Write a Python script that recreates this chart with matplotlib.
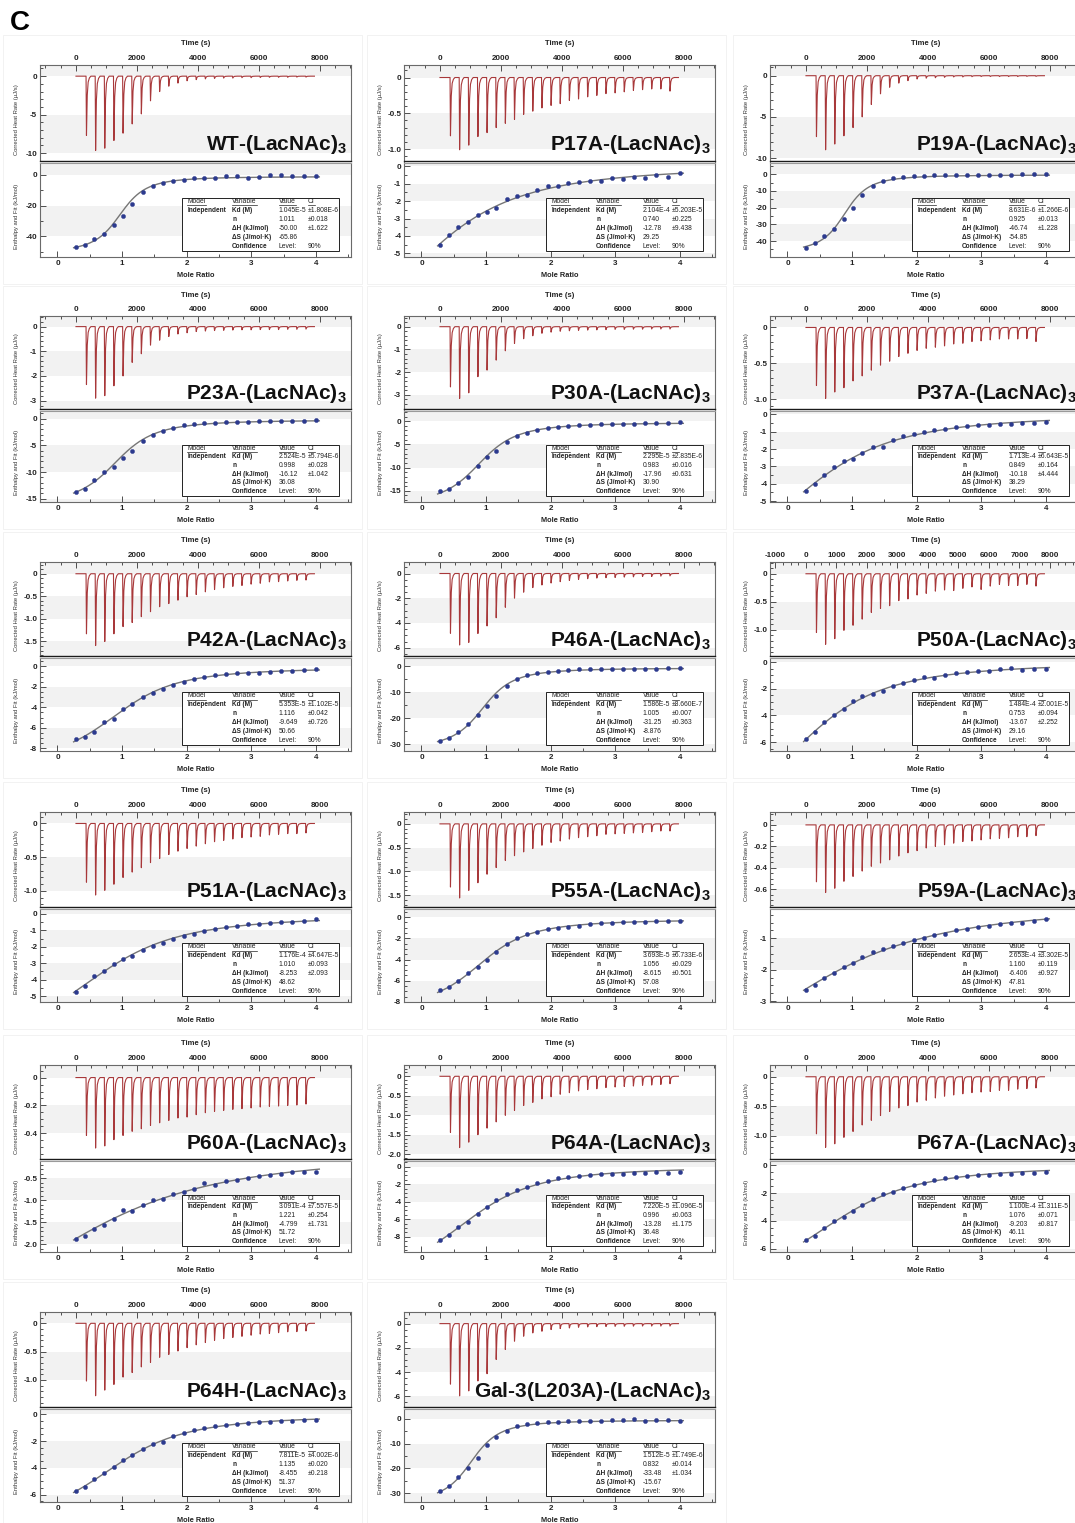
import numpy as np
import matplotlib.pyplot as plt
from matplotlib.patches import Rectangle

plt.rcParams['font.family'] = ['Liberation Sans', 'DejaVu Sans']
plt.rcParams['mathtext.fontset'] = 'custom'
plt.rcParams['mathtext.rm'] = 'Liberation Sans'
plt.rcParams['mathtext.bf'] = 'Liberation Sans:bold'

# constructs, panel order left->right, top->bottom
constructs = ['WT', 'P17A', 'P19A', 'P23A', 'P30A', 'P37A', 'P42A', 'P46A', 'P50A',
              'P51A', 'P55A', 'P59A', 'P60A', 'P64A', 'P67A', 'P64H', 'Gal-3(L203A)']

# independent-site model results
kd = ['1.045E-5', '2.104E-4', '8.631E-6', '2.524E-5', '2.295E-5', '1.713E-4', '5.353E-5',
      '1.586E-5', '1.484E-4', '1.176E-4', '3.693E-5', '2.653E-4', '3.091E-4', '7.220E-5',
      '1.100E-4', '7.811E-5', '1.512E-5']
kd_ci = ['1.808E-6', '5.203E-5', '1.266E-6', '5.794E-6', '2.835E-6', '6.643E-5', '1.102E-5',
         '8.660E-7', '2.001E-5', '4.647E-5', '6.733E-6', '3.302E-5', '7.557E-5', '1.096E-5',
         '1.311E-5', '4.002E-6', '1.749E-6']
n_sites = ['1.011', '0.740', '0.925', '0.998', '0.983', '0.849', '1.116', '1.005', '0.753',
           '1.010', '1.056', '1.160', '1.221', '0.996', '1.076', '1.135', '0.832']
n_ci = ['0.018', '0.225', '0.013', '0.028', '0.016', '0.164', '0.042', '0.007', '0.094',
        '0.093', '0.029', '0.119', '0.254', '0.063', '0.071', '0.020', '0.014']
dh = ['-50.00', '-12.78', '-46.74', '-16.12', '-17.96', '-10.18', '-9.649', '-31.25', '-13.67',
      '-8.253', '-8.615', '-6.406', '-4.799', '-13.28', '-9.203', '-8.455', '-33.48']
dh_ci = ['1.622', '9.438', '1.228', '1.042', '0.631', '4.444', '0.726', '0.363', '2.252',
         '2.093', '0.501', '0.927', '1.731', '1.175', '0.817', '0.218', '1.034']
ds = ['-65.86', '29.25', '-54.85', '36.08', '30.90', '38.29', '50.66', '-8.876', '29.16',
      '48.62', '57.08', '47.81', '51.72', '36.48', '46.11', '51.37', '-15.67']

# injection schedule (s) and mole ratio of the integrated injections
inj_times = [330, 630, 930, 1230, 1530, 1830, 2130, 2430, 2730, 3030, 3330, 3630, 3930,
             4230, 4530, 4830, 5130, 5430, 5730, 6030, 6330, 6630, 6930, 7230, 7530]
mole_ratio = [0.29, 0.43, 0.57, 0.72, 0.87, 1.01, 1.16, 1.32, 1.47, 1.63, 1.79, 1.95, 2.11,
              2.27, 2.43, 2.60, 2.77, 2.94, 3.11, 3.28, 3.46, 3.63, 3.81, 4.00]

# peak minima of the raw heat rate (uJ/s)
peaks_wt = [-7.7, -9.65, -9.35, -8.35, -7.4, -6.2, -4.9, -3.2, -2.0, -1.3, -0.9, -0.6, -0.45,
            -0.35, -0.3, -0.25, -0.25, -0.2, -0.2, -0.18, -0.15, -0.15, -0.15, -0.12, -0.12]
peaks_p17a = [-0.815, -1.01, -0.945, -0.825, -0.77, -0.70, -0.64, -0.585, -0.515, -0.47, -0.425,
              -0.39, -0.365, -0.32, -0.30, -0.27, -0.25, -0.225, -0.215, -0.20, -0.18, -0.17,
              -0.16, -0.16, -0.19]
peaks_p19a = [-7.4, -9.0, -8.3, -7.3, -6.3, -5.0, -3.5, -2.2, -1.4, -0.9, -0.6, -0.4, -0.3,
              -0.25, -0.2, -0.15, -0.15, -0.12, -0.1, -0.1, -0.1, -0.1, -0.1, -0.08, -0.08]
peaks_p23a = [-2.35, -2.9, -2.8, -2.4, -2.0, -1.45, -1.1, -0.75, -0.55, -0.4, -0.3, -0.25, -0.2,
              -0.18, -0.16, -0.15, -0.14, -0.13, -0.13, -0.12, -0.12, -0.12, -0.11, -0.11, -0.1]
peaks_p30a = [-2.65, -3.16, -2.91, -2.2, -1.91, -1.47, -1.06, -0.74, -0.53, -0.40, -0.29, -0.24,
              -0.2, -0.18, -0.16, -0.15, -0.14, -0.13, -0.12, -0.12, -0.11, -0.11, -0.1, -0.1, -0.1]
peaks_p37a = [-0.81, -0.99, -0.90, -0.84, -0.745, -0.675, -0.595, -0.525, -0.47, -0.405, -0.36,
              -0.32, -0.29, -0.275, -0.257, -0.23, -0.22, -0.196, -0.187, -0.173, -0.16, -0.16,
              -0.16, -0.155, -0.196]
peaks_p42a = [-1.33, -1.59, -1.5, -1.33, -1.17, -1.08, -0.95, -0.84, -0.73, -0.66, -0.585, -0.51,
              -0.46, -0.40, -0.35, -0.31, -0.28, -0.26, -0.23, -0.21, -0.18, -0.175, -0.16,
              -0.146, -0.14]
peaks_p46a = [-4.83, -5.78, -5.57, -4.85, -4.24, -3.58, -2.73, -1.99, -1.51, -1.14, -0.93, -0.77,
              -0.66, -0.56, -0.48, -0.42, -0.37, -0.34, -0.32, -0.29, -0.27, -0.24, -0.24, -0.21,
              -0.19]
peaks_p50a = [-1.05, -1.26, -1.16, -1.01, -0.92, -0.81, -0.69, -0.62, -0.57, -0.48, -0.45, -0.38,
              -0.35, -0.31, -0.29, -0.30, -0.26, -0.235, -0.28, -0.22, -0.19, -0.21, -0.21, -0.19,
              -0.22]
peaks_p51a = [-0.87, -1.06, -0.99, -0.90, -0.80, -0.72, -0.655, -0.58, -0.52, -0.46, -0.41, -0.37,
              -0.335, -0.30, -0.27, -0.25, -0.23, -0.21, -0.20, -0.19, -0.17, -0.16, -0.15, -0.15,
              -0.14]
peaks_p55a = [-1.33, -1.56, -1.40, -1.24, -1.06, -0.92, -0.77, -0.67, -0.59, -0.52, -0.45, -0.39,
              -0.36, -0.32, -0.29, -0.27, -0.25, -0.22, -0.21, -0.20, -0.19, -0.18, -0.165, -0.15,
              -0.15]
peaks_p59a = [-0.53, -0.63, -0.59, -0.525, -0.48, -0.43, -0.385, -0.355, -0.325, -0.29, -0.26,
              -0.24, -0.215, -0.20, -0.185, -0.17, -0.155, -0.15, -0.14, -0.13, -0.125, -0.12,
              -0.11, -0.11, -0.1]
peaks_p60a = [-0.415, -0.505, -0.49, -0.445, -0.415, -0.385, -0.367, -0.343, -0.324, -0.307,
              -0.29, -0.283, -0.266, -0.252, -0.242, -0.235, -0.228, -0.223, -0.218, -0.211,
              -0.206, -0.204, -0.2, -0.197, -0.19]
peaks_p64a = [-1.44, -1.83, -1.69, -1.5, -1.33, -1.17, -1.0, -0.875, -0.75, -0.67, -0.58, -0.525,
              -0.46, -0.42, -0.375, -0.34, -0.32, -0.29, -0.275, -0.26, -0.25, -0.23, -0.225,
              -0.21, -0.19]
peaks_p67a = [-0.97, -1.2, -1.14, -1.03, -0.93, -0.82, -0.74, -0.66, -0.59, -0.53, -0.49, -0.43,
              -0.40, -0.36, -0.33, -0.31, -0.29, -0.27, -0.26, -0.25, -0.23, -0.23, -0.21, -0.2,
              -0.19]
peaks_p64h = [-1.02, -1.28, -1.18, -1.08, -0.95, -0.87, -0.77, -0.69, -0.6, -0.55, -0.49, -0.43,
              -0.38, -0.34, -0.3, -0.27, -0.25, -0.23, -0.21, -0.19, -0.18, -0.165, -0.15, -0.147,
              -0.135]
peaks_gal3 = [-5.0, -5.97, -5.56, -4.74, -4.14, -2.96, -2.14, -1.45, -1.04, -0.77, -0.63, -0.49,
              -0.41, -0.36, -0.3, -0.27, -0.25, -0.24, -0.23, -0.22, -0.21, -0.2, -0.2, -0.2, -0.2]

# integrated heats (kJ/mol of injectant)
heats_wt = [-46.8, -45.7, -42.0, -38.3, -32.8, -26.6, -18.9, -10.9, -7.4, -5.3, -4.0, -3.6,
            -1.7, -2.3, -1.7, -0.9, -0.9, -1.7, -1.5, 0.0, 0.2, -0.4, -0.6, -0.6]
heats_p17a = [-4.55, -3.95, -3.5, -3.2, -2.82, -2.63, -2.42, -1.9, -1.69, -1.62, -1.33, -1.15,
              -1.15, -0.96, -0.88, -0.81, -0.85, -0.66, -0.71, -0.60, -0.64, -0.51, -0.60, -0.38]
heats_p19a = [-44.0, -41.0, -37.0, -33.0, -27.0, -20.5, -12.5, -7.0, -4.2, -2.5, -1.9, -1.3,
              -0.9, -0.7, -0.5, -0.4, -0.3, -0.3, -0.2, -0.2, -0.2, -0.1, -0.1, 0.2]
heats_p23a = [-13.7, -13.2, -11.4, -9.9, -9.0, -7.3, -6.0, -4.2, -3.1, -2.3, -1.7, -1.3, -1.0,
              -0.9, -0.75, -0.7, -0.6, -0.6, -0.5, -0.45, -0.45, -0.4, -0.45, -0.35]
heats_p30a = [-15.0, -14.5, -13.3, -12.0, -9.6, -7.7, -6.5, -4.4, -3.2, -2.5, -1.8, -1.4, -1.2,
              -1.0, -0.85, -0.75, -0.65, -0.6, -0.5, -0.5, -0.45, -0.4, -0.4, -0.15]
heats_p37a = [-4.42, -4.02, -3.5, -3.04, -2.7, -2.57, -2.24, -1.9, -1.89, -1.46, -1.26, -1.11,
              -1.02, -0.93, -0.83, -0.72, -0.67, -0.63, -0.61, -0.57, -0.54, -0.52, -0.5, -0.43]
heats_p42a = [-7.1, -6.9, -6.4, -5.4, -5.1, -4.2, -3.7, -2.95, -2.6, -2.2, -1.8, -1.55, -1.25,
              -1.0, -0.85, -0.7, -0.65, -0.6, -0.65, -0.5, -0.45, -0.45, -0.4, -0.27]
heats_p46a = [-28.6, -27.4, -25.3, -22.2, -18.8, -15.3, -11.2, -7.6, -5.0, -3.5, -2.5, -2.0,
              -1.6, -1.4, -1.2, -1.1, -1.0, -0.95, -0.9, -0.9, -0.85, -0.85, -0.8, -0.8]
heats_p50a = [-5.8, -5.25, -4.53, -3.98, -3.53, -2.94, -2.56, -2.36, -2.14, -1.77, -1.59, -1.37,
              -1.14, -1.19, -1.0, -0.85, -0.75, -0.67, -0.70, -0.55, -0.47, -0.62, -0.52, -0.50]
heats_p51a = [-4.75, -4.35, -3.8, -3.45, -3.05, -2.75, -2.55, -2.2, -1.95, -1.75, -1.5, -1.35,
              -1.2, -1.05, -0.9, -0.8, -0.75, -0.65, -0.6, -0.55, -0.5, -0.5, -0.45, -0.3]
heats_p55a = [-6.9, -6.6, -6.0, -5.3, -4.7, -4.0, -3.3, -2.5, -2.0, -1.6, -1.4, -1.15, -1.0,
              -0.95, -0.8, -0.65, -0.6, -0.55, -0.5, -0.45, -0.45, -0.35, -0.4, -0.35]
heats_p59a = [-2.65, -2.5, -2.25, -2.1, -1.9, -1.8, -1.6, -1.45, -1.35, -1.25, -1.15, -1.05,
              -1.0, -0.9, -0.85, -0.75, -0.7, -0.65, -0.6, -0.55, -0.5, -0.5, -0.45, -0.4]
heats_p60a = [-1.87, -1.8, -1.65, -1.55, -1.42, -1.23, -1.25, -1.11, -0.99, -0.97, -0.85, -0.82,
              -0.74, -0.6, -0.66, -0.56, -0.53, -0.49, -0.46, -0.42, -0.4, -0.37, -0.36, -0.35]
heats_p64a = [-8.33, -7.8, -6.9, -6.3, -5.4, -4.55, -3.8, -3.15, -2.7, -2.33, -1.85, -1.6, -1.3,
              -1.15, -1.04, -0.96, -0.89, -0.85, -0.85, -0.78, -0.7, -0.63, -0.67, -0.63]
heats_p67a = [-5.39, -5.06, -4.52, -3.98, -3.69, -3.29, -2.82, -2.45, -2.09, -1.93, -1.62, -1.44,
              -1.25, -1.06, -0.92, -0.87, -0.78, -0.71, -0.66, -0.61, -0.59, -0.54, -0.52, -0.45]
heats_p64h = [-5.75, -5.4, -4.85, -4.4, -3.95, -3.45, -3.05, -2.6, -2.25, -2.05, -1.6, -1.4,
              -1.2, -1.0, -0.9, -0.8, -0.72, -0.65, -0.6, -0.55, -0.5, -0.48, -0.45, -0.45]
heats_gal3 = [-29.1, -26.9, -23.6, -20.0, -15.7, -10.6, -7.4, -5.0, -3.0, -2.2, -1.8, -1.5, -1.2,
              -1.0, -0.9, -0.8, -0.75, -0.7, -0.7, -0.3, -0.9, -0.6, -0.5, -1.0]

peaks = [peaks_wt, peaks_p17a, peaks_p19a, peaks_p23a, peaks_p30a, peaks_p37a, peaks_p42a,
         peaks_p46a, peaks_p50a, peaks_p51a, peaks_p55a, peaks_p59a, peaks_p60a, peaks_p64a,
         peaks_p67a, peaks_p64h, peaks_gal3]
heats = [heats_wt, heats_p17a, heats_p19a, heats_p23a, heats_p30a, heats_p37a, heats_p42a,
         heats_p46a, heats_p50a, heats_p51a, heats_p55a, heats_p59a, heats_p60a, heats_p64a,
         heats_p67a, heats_p64h, heats_gal3]

# y ranges / tick steps per panel: (lo, hi, major, minor)
raw_axis = [(-10.95, 1.45, 5, 1), (-1.16, 0.175, 0.5, 0.1), (-10.3, 1.3, 5, 1),
            (-3.32, 0.43, 1, 0.2), (-3.6, 0.47, 1, 0.2), (-1.13, 0.16, 0.5, 0.1),
            (-1.81, 0.26, 0.5, 0.1), (-6.63, 0.93, 2, 0.5), (-1.46, 0.21, 0.5, 0.1),
            (-1.23, 0.17, 0.5, 0.1), (-1.74, 0.25, 0.5, 0.1), (-0.76, 0.12, 0.2, 0.05),
            (-0.58, 0.09, 0.2, 0.05), (-2.11, 0.29, 0.5, 0.1), (-1.39, 0.2, 0.5, 0.1),
            (-1.47, 0.2, 0.5, 0.1), (-6.85, 0.96, 2, 0.5)]
iso_axis = [(-53.5, 8.1, 20, 10), (-5.22, 0.23, 1, 0.5), (-49.5, 7.0, 10, 5),
            (-15.6, 1.5, 5, 1), (-17.4, 2.3, 5, 1), (-5.05, 0.22, 1, 0.5),
            (-8.27, 0.87, 2, 0.5), (-32.5, 3.4, 10, 5), (-6.67, 0.35, 2, 0.5),
            (-5.35, 0.32, 1, 0.5), (-8.0, 0.8, 2, 0.5), (-3.03, -0.05, 1, 0.25),
            (-2.17, -0.1, 0.5, 0.1), (-9.74, 0.7, 2, 0.5), (-6.24, 0.35, 2, 0.5),
            (-6.56, 0.44, 2, 0.5), (-33.5, 4.1, 10, 5)]

# figure layout in pixels
W, H = 1075, 1523
col_left = [40, 404, 770]
row_y = [(65, 161, 257), (316, 409, 502), (562, 656, 751), (812, 907, 1002),
         (1065, 1159, 1252), (1312, 1407, 1502)]
panel_w = 311

RED = '#a8383a'
NAVY = '#2c3a8e'
BAND = '#f2f2f2'
SPINE = '#6a6a6a'

fig = plt.figure(figsize=(W / 100, H / 100), dpi=100)
renderer = fig.canvas.get_renderer()

# peak template: time offsets (s) and fraction of the minimum
shape_dt = [-4, 0, 14, 24, 40, 70, 110, 160]
shape_f = [0, 0, 1.0, 0.72, 0.32, 0.1, 0.03, 0]


def tick_values(lo, hi, step):
    k0 = int(np.ceil(lo / step - 1e-6))
    k1 = int(np.floor(hi / step + 1e-6))
    return [round(k * step, 6) for k in range(k0, k1 + 1)]


def fmt(v, step):
    if abs(v) < 1e-9:
        return '0'
    if float(step).is_integer():
        return '%d' % round(v)
    return '%.1f' % v


def bands(ax, lo, hi, step):
    k0 = int(np.floor(lo / step)) - 1
    k1 = int(np.ceil(hi / step)) + 1
    for k in range(k0, k1):
        if k % 2 == 0:
            ax.axhspan(k * step, (k + 1) * step, color=BAND, lw=0, zorder=0)


def y_axis(ax, lo, hi, step, minor):
    ax.set_ylim(lo, hi)
    bands(ax, lo, hi, step)
    major = tick_values(lo, hi, step)
    ax.set_yticks(major, labels=[fmt(v, step) for v in major], fontsize=5.8,
                  fontweight='bold', color='#222222')
    ax.set_yticks(tick_values(lo, hi, minor), minor=True)


def base_style(ax):
    for s in ax.spines.values():
        s.set_color(SPINE)
        s.set_linewidth(0.8)
    ax.tick_params(which='both', direction='in', width=0.6, color='#333333', pad=2)
    ax.tick_params(which='major', length=4)
    ax.tick_params(which='minor', length=2.2)


def wiseman(x, n, k_d, d_h, conc):
    r = k_d / (n * conc)
    xr = x / n
    return d_h * (0.5 + (1 - xr - r) / (2 * np.sqrt((1 + xr + r) ** 2 - 4 * xr)))


def draw_table(ax, i):
    x0, x1, y0, y1 = 0.458, 0.962, 0.063, 0.628
    ax.add_patch(Rectangle((x0, y0), x1 - x0, y1 - y0, transform=ax.transAxes,
                           fc='white', ec='#222222', lw=0.7, zorder=5))
    cols = [x0 + 0.016, x0 + 0.16, x0 + 0.31, x0 + 0.404]
    rows = [0.589, 0.495, 0.40, 0.305, 0.21, 0.112]
    cells = [['Model', 'Variable', 'Value', 'CI'],
             ['Independent', 'Kd (M)', kd[i], '±' + kd_ci[i]],
             ['', 'n', n_sites[i], '±' + n_ci[i]],
             ['', 'ΔH (kJ/mol)', dh[i], '±' + dh_ci[i]],
             ['', 'ΔS (J/mol·K)', ds[i], ''],
             ['', 'Confidence', 'Level:', '90%']]
    for r, row in enumerate(cells):
        for c, txt in enumerate(row):
            if not txt:
                continue
            bold = c < 2 and r > 0
            t = ax.text(cols[c], rows[r], txt, transform=ax.transAxes, ha='left', va='center',
                        fontsize=4.7 if bold else 4.9, fontweight='bold' if bold else 'normal',
                        color='#222222', zorder=6)
            if r == 0:
                bb = t.get_window_extent(renderer).transformed(ax.transAxes.inverted())
                ax.plot([bb.x0, bb.x1], [bb.y0 - 0.004] * 2, transform=ax.transAxes,
                        color='#222222', lw=0.5, zorder=6)


x_fit = np.linspace(0.25, 4.05, 200)
conc_grid = np.logspace(-6, -1, 500)

for i, name in enumerate(constructs):
    col, row = i % 3, i // 3
    left = col_left[col]
    top, mid, bot = row_y[row]

    # faint panel frame
    fig.add_artist(Rectangle(((left - 37) / W, 1 - (bot + 27) / H), 359 / W, (bot - top + 57) / H,
                             transform=fig.transFigure, fill=False, ec='#f0f0f0', lw=0.6))

    ax1 = fig.add_axes([left / W, 1 - (mid - 0.5) / H, panel_w / W, (mid - 0.5 - top) / H])
    ax2 = fig.add_axes([left / W, 1 - bot / H, panel_w / W, (bot - mid - 1.5) / H])
    base_style(ax1)
    base_style(ax2)
    ax1.spines['bottom'].set_color('#1a1a1a')
    ax1.spines['bottom'].set_linewidth(1.0)
    ax2.spines['top'].set_color('#9a9a9a')

    # ---- raw thermogram ----
    t_tr, y_tr = [0], [0]
    for t0, d in zip(inj_times, peaks[i]):
        for dt, f in zip(shape_dt, shape_f):
            t_tr.append(t0 + dt)
            y_tr.append(d * f)
    t_tr.append(7820)
    y_tr.append(0)
    ax1.plot(t_tr, y_tr, color=RED, lw=0.8, zorder=3)

    ax1.set_xlim(-1180, 9020)
    if name == 'P50A':
        tmaj = list(range(-1000, 9000, 1000))
        tmin = list(range(-1000, 9001, 250))
    else:
        tmaj = list(range(0, 9000, 2000))
        tmin = list(range(-1000, 9001, 500))
    ax1.set_xticks(tmaj, labels=[str(v) for v in tmaj], fontsize=5.8, fontweight='bold',
                   color='#222222')
    ax1.set_xticks(tmin, minor=True)
    ax1.tick_params(axis='x', which='both', top=True, bottom=False, labeltop=True,
                    labelbottom=False)
    ax1.tick_params(axis='y', which='both', left=True, right=False)
    lo, hi, st, mn = raw_axis[i]
    y_axis(ax1, lo, hi, st, mn)

    ax1.text(0.5, 1.225, 'Time (s)', transform=ax1.transAxes, ha='center', va='center',
             fontsize=5.5, fontweight='bold', color='#222222')
    ax1.text(-0.074, 0.43, 'Corrected Heat Rate (µJ/s)', transform=ax1.transAxes,
             rotation=90, ha='center', va='center', fontsize=4.2, color='#333333')
    ax1.text(0.987, 0.105, name + r'-(LacNAc)$_\mathbf{3}$', transform=ax1.transAxes,
             ha='right', va='baseline', fontsize=15, fontweight='bold', color='#111111',
             zorder=6)

    # ---- binding isotherm ----
    x = np.array(mole_ratio)
    y = np.array(heats[i])
    n_v, kd_v, dh_v = float(n_sites[i]), float(kd[i]), float(dh[i])
    best = None
    for conc in conc_grid:
        base = wiseman(x, n_v, kd_v, dh_v, conc)
        off = np.mean(y - base)
        sse = np.sum((y - base - off) ** 2)
        if best is None or sse < best[0]:
            best = (sse, conc, off)
    y_fit = wiseman(x_fit, n_v, kd_v, dh_v, best[1]) + best[2]
    ax2.plot(x_fit, y_fit, color='#767676', lw=1.0, zorder=3)
    ax2.plot(x, y, 'o', color=NAVY, ms=3.0, mec=NAVY, mew=0.3, zorder=4)

    ax2.set_xlim(-0.27, 4.54)
    ax2.set_xticks([0, 1, 2, 3, 4], labels=['0', '1', '2', '3', '4'], fontsize=5.8,
                   fontweight='bold', color='#222222')
    ax2.set_xticks([0.5 * k for k in range(10)], minor=True)
    ax2.tick_params(axis='x', which='both', top=False, bottom=True)
    ax2.tick_params(axis='y', which='both', left=True, right=False)
    lo, hi, st, mn = iso_axis[i]
    y_axis(ax2, lo, hi, st, mn)

    ax2.text(0.5, -0.2, 'Mole Ratio', transform=ax2.transAxes, ha='center', va='center',
             fontsize=5.3, fontweight='bold', color='#222222')
    ax2.text(-0.074, 0.43, 'Enthalpy and Fit (kJ/mol)', transform=ax2.transAxes,
             rotation=90, ha='center', va='center', fontsize=4.2, color='#333333')

    draw_table(ax2, i)

fig.text(10 / W, 1 - 30 / H, 'C', fontsize=20, fontweight='bold', va='baseline', ha='left')

fig.savefig('out.png', dpi=100)
